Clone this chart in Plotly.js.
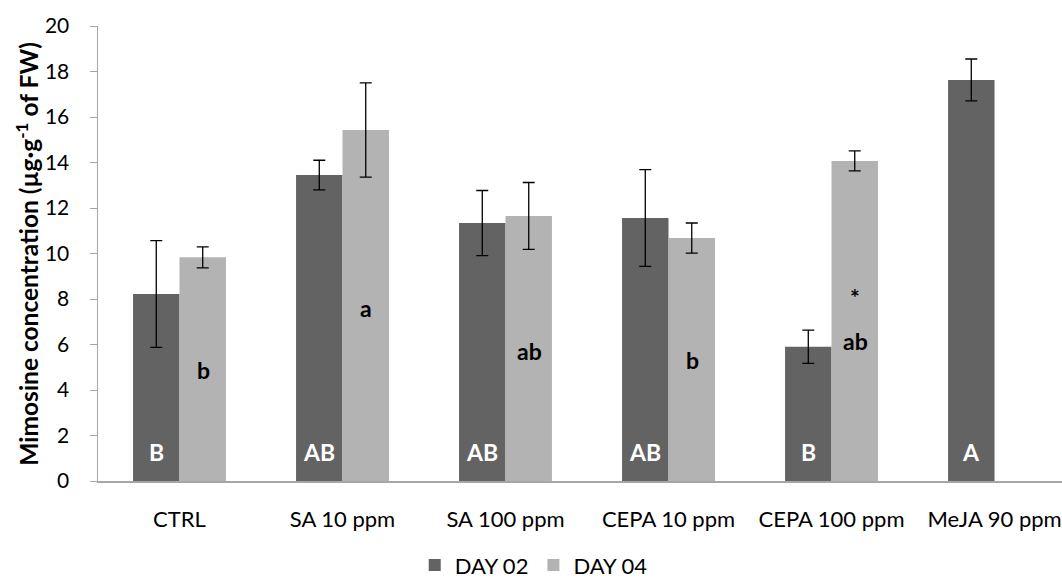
<!DOCTYPE html>
<html><head><meta charset="utf-8">
<script src="https://cdn.plot.ly/plotly-3.0.1.min.js"></script>
<style>html,body{margin:0;padding:0;background:#fff;}#chart{width:1062px;height:580px;}</style>
</head><body><div id="chart"></div>
<script>
var categories = ["CTRL", "SA 10 ppm", "SA 100 ppm", "CEPA 10 ppm", "CEPA 100 ppm", "MeJA 90 ppm"];
var day02 = [8.22, 13.45, 11.34, 11.56, 5.9, 17.63];
var day02Err = [2.35, 0.65, 1.43, 2.13, 0.73, 0.92];
var day04 = [9.83, 15.43, 11.65, 10.68, 14.07, null];
var day04Err = [0.46, 2.07, 1.47, 0.66, 0.44, 0];
var day02Letters = ["B", "AB", "AB", "AB", "B", "A"];
var day04Letters = ["b", "a", "ab", "b", "ab", ""];
var day04LetterY = [4.9, 7.6, 5.7, 5.3, 6.15, 0];
var day02LetterY = 1.28;
var starLabel = {cat: "CEPA 100 ppm", y: 8.1, text: "*"};

var font = "Lato, 'Open Sans', sans-serif";
var traces = [
  {type: "bar", name: "DAY 02", x: categories.map(function (c, i) { return i; }), y: day02,
   marker: {color: "#636363"},
   error_y: {type: "data", array: day02Err, visible: true, color: "#000", thickness: 1.3, width: 6}},
  {type: "bar", name: "DAY 04", x: categories.map(function (c, i) { return i; }), y: day04,
   marker: {color: "#b3b3b3"},
   error_y: {type: "data", array: day04Err, visible: true, color: "#000", thickness: 1.3, width: 6}}
];

var annotations = [];
categories.forEach(function (c, i) {
  annotations.push({x: i, y: day02LetterY, xref: "x", yref: "y", text: "<b>" + day02Letters[i] + "</b>",
    showarrow: false, xshift: -23.5, font: {family: font, size: 23, color: "#ffffff"}});
  if (day04Letters[i]) {
    annotations.push({x: i, y: day04LetterY[i], xref: "x", yref: "y", text: "<b>" + day04Letters[i] + "</b>",
      showarrow: false, xshift: 23.5, font: {family: font, size: 23, color: "#000000"}});
  }
});
annotations.push({x: categories.indexOf(starLabel.cat), y: starLabel.y, xref: "x", yref: "y",
  text: "<b>" + starLabel.text + "</b>", showarrow: false, xshift: 23.5,
  font: {family: font, size: 23, color: "#000000"}});
annotations.push({x: -0.0745, y: 0.5, xref: "paper", yref: "paper", xanchor: "center", yanchor: "middle",
  textangle: -90, showarrow: false,
  text: "<b>Mimosine concentration (µg·g<sup>-1</sup> of FW)</b>",
  font: {family: font, size: 24.5, color: "#000"}});

var layout = {
  width: 1062, height: 580,
  margin: {l: 98, r: 0, t: 26, b: 99, autoexpand: false},
  paper_bgcolor: "#fff", plot_bgcolor: "#fff",
  barmode: "group", bargap: 0.43, bargroupgap: 0,
  font: {family: font, size: 22, color: "#000"},
  xaxis: {type: "linear", range: [-0.5, 5.414], tickvals: [0,1,2,3,4,5], ticktext: categories,
    showline: true, linecolor: "#a6a6a6", linewidth: 1.5, ticks: "", showgrid: false, zeroline: false,
    ticklabelstandoff: 18,
    tickfont: {family: font, size: 22, color: "#000"}, automargin: false},
  yaxis: {range: [0, 20], dtick: 2, showline: true, linecolor: "#a6a6a6", linewidth: 1.5,
    ticks: "outside", ticklen: 7, tickcolor: "#a6a6a6", showgrid: false, zeroline: false,
    ticklabelstandoff: 16,
    tickfont: {family: font, size: 21, color: "#000"}, automargin: false},
  showlegend: true,
  legend: {orientation: "h", x: 0.452, xanchor: "center", y: -0.185, yanchor: "middle",
    font: {family: font, size: 22, color: "#000"}, itemwidth: 30, traceorder: "normal"},
  annotations: annotations
};

Plotly.newPlot("chart", traces, layout, {displayModeBar: false, staticPlot: true});
</script></body></html>
